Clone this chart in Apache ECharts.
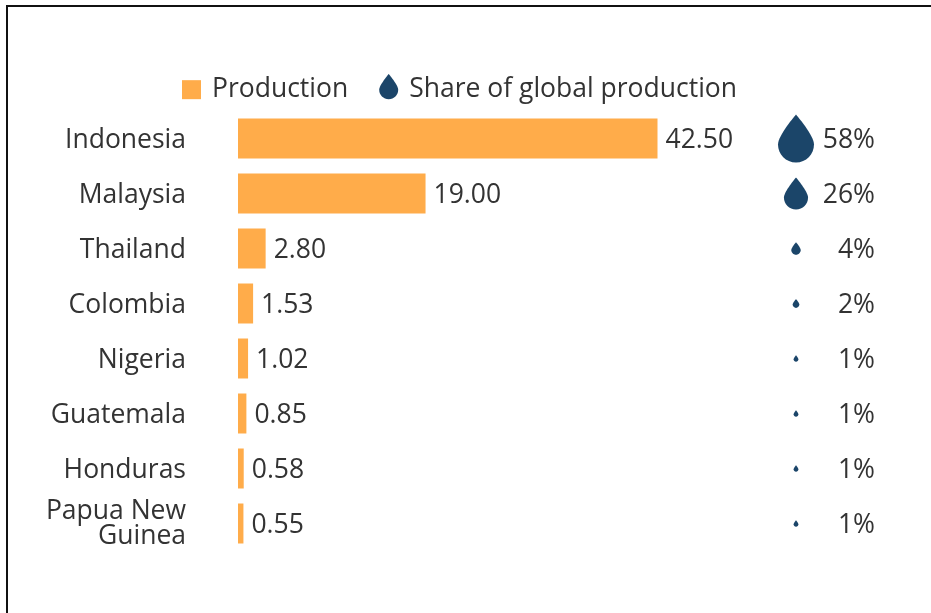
<!DOCTYPE html>
<html>
<head>
<meta charset="utf-8">
<style>
  html, body { margin: 0; padding: 0; background: #fff; }
  #chart { width: 931px; height: 613px; }
</style>
<script src="https://cdn.jsdelivr.net/npm/echarts@6/dist/echarts.min.js"></script>
</head>
<body>
<div id="chart"></div>
<script>
// Palm oil production by country (million tonnes) and share of the world total
const categories = ['Indonesia', 'Malaysia', 'Thailand', 'Colombia', 'Nigeria', 'Guatemala', 'Honduras', 'Papua New\nGuinea'];
const production = [42.5, 19.0, 2.8, 1.53, 1.02, 0.85, 0.58, 0.55];
const sharePercent = [58, 26, 4, 2, 1, 1, 1, 1];

const DROP_PATH = 'path://M50 0C50 0 100 58 100 83C100 110 78 133 50 133C22 133 0 110 0 83C0 58 50 0 50 0Z';
// The empty trailing segment lifts the legend droplet so its base lines up with the square
const LEGEND_DROP_PATH = 'path://M50 0C50 0 100 58 100 83C100 110 78 133 50 133C22 133 0 110 0 83C0 58 50 0 50 0ZM50 165L50 165';
const SQUARE_PATH = 'path://M0 0H10V10H0Z';
const FONT = '"Open Sans", sans-serif';
const FONT_SIZE = 26.5;
const TEXT_COLOR = '#333333';
const BAR_COLOR = '#FFAC4A';
const DROP_COLOR = '#1B4569';

// Droplet area follows the share, so its height follows the square root
const dropSize = (share) => {
  const h = 48 * Math.sqrt(share / 58);
  return [h * 0.75, h];
};

const chart = echarts.init(document.getElementById('chart'), null, { renderer: 'canvas' });
chart.setOption({
  animation: false,
  backgroundColor: '#ffffff',
  graphic: [
    { type: 'line', silent: true, shape: { x1: 7, y1: 5, x2: 7, y2: 613 }, style: { stroke: '#111', lineWidth: 2 } },
    { type: 'line', silent: true, shape: { x1: 6, y1: 6, x2: 931, y2: 6 }, style: { stroke: '#111', lineWidth: 2 } }
  ],
  legend: {
    left: 182,
    top: 74,
    padding: 0,
    itemGap: 31,
    itemWidth: 19,
    itemHeight: 33,
    selectedMode: false,
    textStyle: { fontFamily: FONT, fontSize: FONT_SIZE, color: TEXT_COLOR, padding: [0, 0, 0, 6] },
    data: [
      { name: 'Production', icon: SQUARE_PATH, itemStyle: { color: BAR_COLOR } },
      { name: 'Share of global production', icon: LEGEND_DROP_PATH, itemStyle: { color: DROP_COLOR } }
    ]
  },
  grid: [
    { left: 238, top: 111, width: 419.5, height: 440 },
    { left: 796, top: 111, width: 79, height: 440 }
  ],
  xAxis: [
    { type: 'value', gridIndex: 0, min: 0, max: 42.5, show: false },
    { type: 'value', gridIndex: 1, min: 0, max: 1, show: false }
  ],
  yAxis: [
    {
      type: 'category', gridIndex: 0, inverse: true, data: categories,
      axisLine: { show: false }, axisTick: { show: false }, splitLine: { show: false },
      axisLabel: {
        margin: 52, align: 'right', interval: 0,
        // Single-line names sit slightly low; the wrapped name stays centred
        formatter: (v) => v.includes('\n')
          ? v.split('\n').map((line) => `{wrapped|${line}}`).join('\n')
          : `{single|${v}}`,
        rich: {
          single: { fontFamily: FONT, fontSize: FONT_SIZE, color: TEXT_COLOR, padding: [4, 0, 0, 0] },
          wrapped: { fontFamily: FONT, fontSize: FONT_SIZE, color: TEXT_COLOR, lineHeight: 25 }
        }
      }
    },
    {
      type: 'category', gridIndex: 1, inverse: true, data: categories, show: false
    }
  ],
  series: [
    {
      name: 'Production',
      type: 'bar',
      xAxisIndex: 0,
      yAxisIndex: 0,
      barWidth: 40,
      data: production,
      itemStyle: { color: BAR_COLOR },
      label: {
        show: true, position: 'right', distance: 8, offset: [0, 2],
        fontFamily: FONT, fontSize: FONT_SIZE, color: TEXT_COLOR,
        formatter: (p) => p.value.toFixed(2)
      }
    },
    {
      name: 'Share of global production',
      type: 'scatter',
      xAxisIndex: 1,
      yAxisIndex: 1,
      symbol: DROP_PATH,
      symbolKeepAspect: false,
      data: sharePercent.map((s, i) => ({ value: [0, i], share: s, symbolSize: dropSize(s) })),
      itemStyle: { color: DROP_COLOR, opacity: 1 }
    },
    {
      // Percentages, right-aligned in a column of their own
      name: 'Share labels',
      type: 'scatter',
      xAxisIndex: 1,
      yAxisIndex: 1,
      symbolSize: 0,
      data: sharePercent.map((s, i) => ({ value: [1, i], share: s })),
      itemStyle: { opacity: 1 },
      label: {
        show: true, position: 'left', distance: 0, offset: [0, 2],
        fontFamily: FONT, fontSize: FONT_SIZE, color: TEXT_COLOR,
        formatter: (p) => p.data.share + '%'
      }
    }
  ]
});
</script>
</body>
</html>
